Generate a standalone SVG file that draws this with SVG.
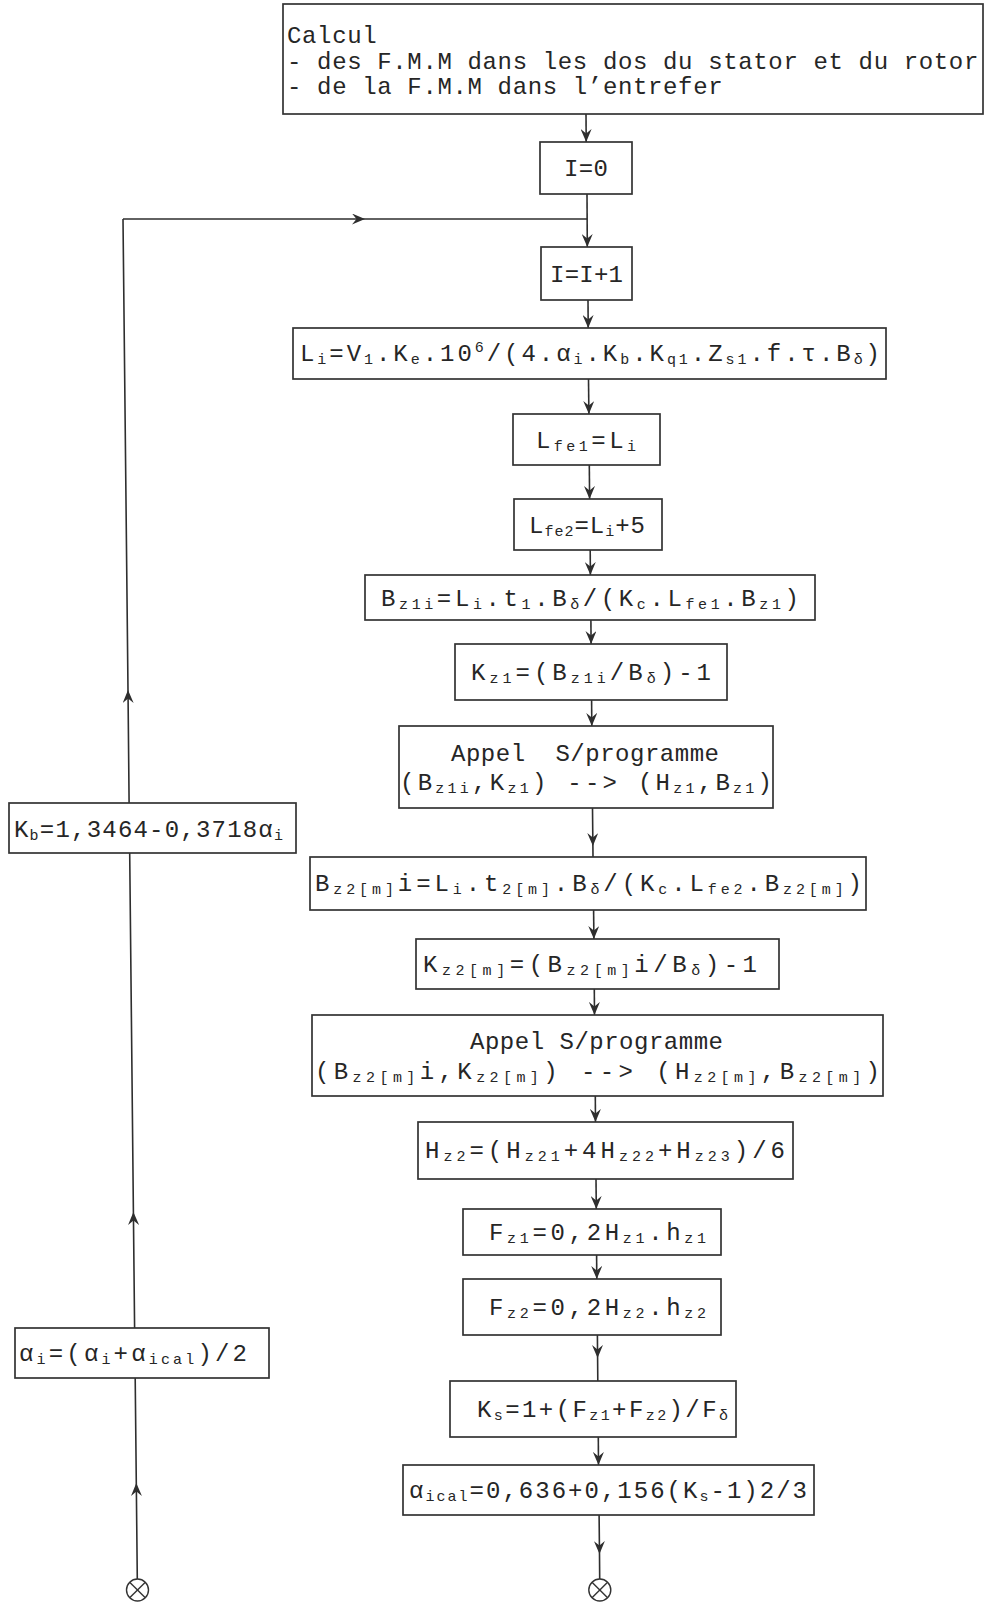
<svg xmlns="http://www.w3.org/2000/svg" width="986" height="1604" viewBox="0 0 986 1604">
<defs>
<style>
.b{fill:#ffffff;stroke:#333333;stroke-width:1.7}
.t{font-family:"Liberation Mono","DejaVu Sans Mono",monospace;font-size:24px;fill:#262626}
.s{font-size:15px;baseline-shift:-3px}
.p{font-size:15px;baseline-shift:9px}
.c{fill:none;stroke:#2e2e2e;stroke-width:1.6}
.x{fill:none;stroke:#333333;stroke-width:1.4}
</style>
<marker id="ah" markerUnits="userSpaceOnUse" markerWidth="13" markerHeight="11" refX="13" refY="5.5" orient="auto">
<path d="M0,0 L13,5.5 L0,11 L4.5,5.5 Z" fill="#2e2e2e"/>
</marker>
</defs>
<rect width="986" height="1604" fill="#ffffff"/>

<g id="connectors">
<line class="c" x1="586" y1="114" x2="586.2" y2="142" marker-end="url(#ah)"/>
<line class="c" x1="587" y1="194" x2="587.3" y2="247" marker-end="url(#ah)"/>
<line class="c" x1="588" y1="300" x2="588.2" y2="328" marker-end="url(#ah)"/>
<line class="c" x1="588.5" y1="379" x2="588.9" y2="414" marker-end="url(#ah)"/>
<line class="c" x1="589.3" y1="465" x2="589.6" y2="499" marker-end="url(#ah)"/>
<line class="c" x1="590.2" y1="550" x2="590.4" y2="575" marker-end="url(#ah)"/>
<line class="c" x1="590.9" y1="620" x2="591.1" y2="644" marker-end="url(#ah)"/>
<line class="c" x1="591.6" y1="700" x2="591.8" y2="726" marker-end="url(#ah)"/>
<polyline class="c" points="592.5,808 592.9,846 593,857" marker-mid="url(#ah)"/>
<line class="c" x1="593.6" y1="910" x2="593.9" y2="939" marker-end="url(#ah)"/>
<line class="c" x1="594.3" y1="989" x2="594.5" y2="1015" marker-end="url(#ah)"/>
<line class="c" x1="595.3" y1="1096" x2="595.5" y2="1122" marker-end="url(#ah)"/>
<line class="c" x1="596" y1="1179" x2="596.3" y2="1209" marker-end="url(#ah)"/>
<line class="c" x1="596.6" y1="1255" x2="596.8" y2="1279" marker-end="url(#ah)"/>
<polyline class="c" points="597.4,1335 597.6,1358 597.8,1381" marker-mid="url(#ah)"/>
<line class="c" x1="598.3" y1="1437" x2="598.5" y2="1465" marker-end="url(#ah)"/>
<polyline class="c" points="599.1,1515 599.5,1554 599.7,1579" marker-mid="url(#ah)"/>
<polyline class="c" points="137.3,1579 136.3,1483 135.2,1378" marker-mid="url(#ah)"/>
<polyline class="c" points="134.6,1328 133.4,1212 129.7,853" marker-mid="url(#ah)"/>
<polyline class="c" points="129.1,803 128,690 123,219" marker-mid="url(#ah)"/>
<polyline class="c" points="123,219 365,219 587.1,219" marker-mid="url(#ah)"/>
</g>

<g id="n-calcul">
<rect class="b" x="283" y="4" width="700" height="110"/>
<text class="t" x="287" y="43" style="letter-spacing:0.64px">Calcul</text>
<text class="t" x="287" y="69" style="letter-spacing:0.64px">- des F.M.M dans les dos du stator et du rotor</text>
<text class="t" x="287" y="94" style="letter-spacing:0.64px">- de la F.M.M dans l’entrefer</text>
</g>

<g id="n-i0">
<rect class="b" x="540" y="142" width="92" height="52"/>
<text class="t" x="564" y="176" textLength="44" lengthAdjust="spacing">I=0</text>
</g>

<g id="n-i1">
<rect class="b" x="541" y="247" width="91" height="53"/>
<text class="t" x="550" y="282" textLength="73" lengthAdjust="spacing">I=I+1</text>
</g>

<g id="n-li">
<rect class="b" x="293" y="328" width="593" height="51"/>
<text class="t" x="300" y="361" textLength="580" lengthAdjust="spacing">L<tspan class="s">i</tspan>=V<tspan class="s">1</tspan>.K<tspan class="s">e</tspan>.10<tspan class="p">6</tspan>/(4.α<tspan class="s">i</tspan>.K<tspan class="s">b</tspan>.K<tspan class="s">q1</tspan>.Z<tspan class="s">s1</tspan>.f.τ.B<tspan class="s">δ</tspan>)</text>
</g>

<g id="n-lfe1">
<rect class="b" x="513" y="414" width="147" height="51"/>
<text class="t" x="536" y="448" textLength="100" lengthAdjust="spacing">L<tspan class="s">fe1</tspan>=L<tspan class="s">i</tspan></text>
</g>

<g id="n-lfe2">
<rect class="b" x="514" y="499" width="148" height="51"/>
<text class="t" x="529" y="533" textLength="116" lengthAdjust="spacing">L<tspan class="s">fe2</tspan>=L<tspan class="s">i</tspan>+5</text>
</g>

<g id="n-bz1i">
<rect class="b" x="365" y="575" width="450" height="45"/>
<text class="t" x="381" y="606" textLength="418" lengthAdjust="spacing">B<tspan class="s">z1i</tspan>=L<tspan class="s">i</tspan>.t<tspan class="s">1</tspan>.B<tspan class="s">δ</tspan>/(K<tspan class="s">c</tspan>.L<tspan class="s">fe1</tspan>.B<tspan class="s">z1</tspan>)</text>
</g>

<g id="n-kz1">
<rect class="b" x="455" y="644" width="272" height="56"/>
<text class="t" x="471" y="680" textLength="240" lengthAdjust="spacing">K<tspan class="s">z1</tspan>=(B<tspan class="s">z1i</tspan>/B<tspan class="s">δ</tspan>)-1</text>
</g>

<g id="n-appel1">
<rect class="b" x="399" y="726" width="374" height="82"/>
<text class="t" x="451" y="761" textLength="268" lengthAdjust="spacing" xml:space="preserve">Appel  S/programme</text>
<text class="t" x="400" y="790" textLength="372" lengthAdjust="spacing" xml:space="preserve">(B<tspan class="s">z1i</tspan>,K<tspan class="s">z1</tspan>) --&gt; (H<tspan class="s">z1</tspan>,B<tspan class="s">z1</tspan>)</text>
</g>

<g id="n-bz2i">
<rect class="b" x="310" y="857" width="556" height="53"/>
<text class="t" x="315" y="891" textLength="547" lengthAdjust="spacing">B<tspan class="s">z2[m]</tspan>i=L<tspan class="s">i</tspan>.t<tspan class="s">2[m]</tspan>.B<tspan class="s">δ</tspan>/(K<tspan class="s">c</tspan>.L<tspan class="s">fe2</tspan>.B<tspan class="s">z2[m]</tspan>)</text>
</g>

<g id="n-kz2">
<rect class="b" x="416" y="939" width="363" height="50"/>
<text class="t" x="423" y="972" textLength="334" lengthAdjust="spacing">K<tspan class="s">z2[m]</tspan>=(B<tspan class="s">z2[m]</tspan>i/B<tspan class="s">δ</tspan>)-1</text>
</g>

<g id="n-appel2">
<rect class="b" x="312" y="1015" width="571" height="81"/>
<text class="t" x="470" y="1049" textLength="253" lengthAdjust="spacing" xml:space="preserve">Appel S/programme</text>
<text class="t" x="315" y="1079" textLength="565" lengthAdjust="spacing" xml:space="preserve">(B<tspan class="s">z2[m]</tspan>i,K<tspan class="s">z2[m]</tspan>) --&gt; (H<tspan class="s">z2[m]</tspan>,B<tspan class="s">z2[m]</tspan>)</text>
</g>

<g id="n-hz2">
<rect class="b" x="418" y="1122" width="375" height="57"/>
<text class="t" x="425" y="1158" textLength="360" lengthAdjust="spacing">H<tspan class="s">z2</tspan>=(H<tspan class="s">z21</tspan>+4H<tspan class="s">z22</tspan>+H<tspan class="s">z23</tspan>)/6</text>
</g>

<g id="n-fz1">
<rect class="b" x="463" y="1209" width="258" height="46"/>
<text class="t" x="489" y="1240" textLength="217" lengthAdjust="spacing">F<tspan class="s">z1</tspan>=0,2H<tspan class="s">z1</tspan>.h<tspan class="s">z1</tspan></text>
</g>

<g id="n-fz2">
<rect class="b" x="463" y="1279" width="258" height="56"/>
<text class="t" x="489" y="1315" textLength="217" lengthAdjust="spacing">F<tspan class="s">z2</tspan>=0,2H<tspan class="s">z2</tspan>.h<tspan class="s">z2</tspan></text>
</g>

<g id="n-ks">
<rect class="b" x="450" y="1381" width="286" height="56"/>
<text class="t" x="477" y="1417" textLength="251" lengthAdjust="spacing">K<tspan class="s">s</tspan>=1+(F<tspan class="s">z1</tspan>+F<tspan class="s">z2</tspan>)/F<tspan class="s">δ</tspan></text>
</g>

<g id="n-aical">
<rect class="b" x="403" y="1465" width="411" height="50"/>
<text class="t" x="409" y="1498" textLength="398" lengthAdjust="spacing">α<tspan class="s">ical</tspan>=0,636+0,156(K<tspan class="s">s</tspan>-1)2/3</text>
</g>

<g id="n-end-right">
<circle class="x" cx="599.8" cy="1590" r="11"/>
<line class="x" x1="592" y1="1582.2" x2="607.6" y2="1597.8"/>
<line class="x" x1="607.6" y1="1582.2" x2="592" y2="1597.8"/>
</g>

<g id="n-kb">
<rect class="b" x="9" y="803" width="287" height="50"/>
<text class="t" x="14" y="837" textLength="269" lengthAdjust="spacing">K<tspan class="s">b</tspan>=1,3464-0,3718α<tspan class="s">i</tspan></text>
</g>

<g id="n-ai">
<rect class="b" x="15" y="1328" width="254" height="50"/>
<text class="t" x="19" y="1361" textLength="228" lengthAdjust="spacing">α<tspan class="s">i</tspan>=(α<tspan class="s">i</tspan>+α<tspan class="s">ical</tspan>)/2</text>
</g>

<g id="n-end-left">
<circle class="x" cx="137.5" cy="1590" r="11"/>
<line class="x" x1="129.7" y1="1582.2" x2="145.3" y2="1597.8"/>
<line class="x" x1="145.3" y1="1582.2" x2="129.7" y2="1597.8"/>
</g>
</svg>
